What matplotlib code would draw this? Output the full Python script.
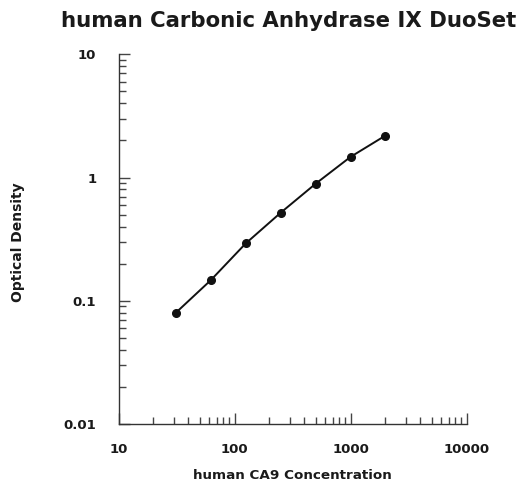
import matplotlib
matplotlib.use("Agg")
import matplotlib.pyplot as plt
from matplotlib.ticker import LogLocator, NullFormatter, FixedLocator, FixedFormatter

concentration = [31.25, 62.5, 125, 250, 500, 1000, 2000]
optical_density = [0.080, 0.147, 0.292, 0.518, 0.89, 1.47, 2.19]
x_ticks = [10, 100, 1000, 10000]
x_tick_labels = ["10", "100", "1000", "10000"]
y_ticks = [0.01, 0.1, 1, 10]
y_tick_labels = ["0.01", "0.1", "1", "10"]

plt.rcParams['font.family'] = ['DejaVu Sans']

fig = plt.figure(figsize=(5.22, 4.84), dpi=100)
ax = fig.add_axes([118.5/522, 1-424/484, (466.5-118.5)/522, (424-54.3)/484])

ax.plot(concentration, optical_density, color='#111111', lw=1.4,
        marker='o', ms=5.5, mfc='#111111', mec='#111111', clip_on=False)

ax.set_xscale('log')
ax.set_yscale('log')
ax.set_xlim(10, 10000)
ax.set_ylim(0.01, 10)

ax.xaxis.set_major_locator(FixedLocator(x_ticks))
ax.xaxis.set_major_formatter(FixedFormatter(x_tick_labels))
ax.yaxis.set_major_locator(FixedLocator(y_ticks))
ax.yaxis.set_major_formatter(FixedFormatter(y_tick_labels))
ax.xaxis.set_minor_locator(LogLocator(base=10, subs=range(2, 10)))
ax.yaxis.set_minor_locator(LogLocator(base=10, subs=range(2, 10)))
ax.xaxis.set_minor_formatter(NullFormatter())
ax.yaxis.set_minor_formatter(NullFormatter())

for s in ['top', 'right']:
    ax.spines[s].set_visible(False)
for s in ['left', 'bottom']:
    ax.spines[s].set_linewidth(1.0)
    ax.spines[s].set_color('#333333')

ax.tick_params(which='major', direction='in', length=8, width=1.0, color='#444444',
               labelsize=9.5, pad=14)
ax.tick_params(which='minor', direction='in', length=5.2, width=1.0, color='#444444')
ax.tick_params(axis='y', which='major', pad=16)
for lab in ax.get_xticklabels() + ax.get_yticklabels():
    lab.set_fontweight('bold')
    lab.set_color('#1a1a1a')

ax.set_xlabel('human CA9 Concentration', fontsize=9.7, fontweight='bold', color='#1a1a1a', labelpad=9)
ax.set_ylabel('Optical Density', fontsize=10, fontweight='bold', color='#1a1a1a')
ax.yaxis.set_label_coords((25 - 118.5) / 348, (424 - 242) / 369.7)

fig.text(288.5/522, 1-21/484, 'human Carbonic Anhydrase IX DuoSet', fontsize=15.3,
         fontweight='bold', color='#1a1a1a', ha='center', va='center')

fig.savefig('out.png', dpi=100)
